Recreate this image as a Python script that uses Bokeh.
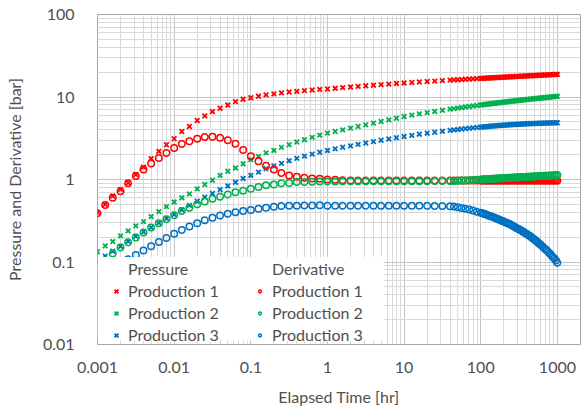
from bokeh.plotting import figure
from bokeh.models import FixedTicker, Legend, LegendItem, BoxAnnotation, Range1d
from bokeh.embed import file_html
from bokeh.resources import INLINE

# ---------------- data ----------------
times = [0.001, 0.00126, 0.00158, 0.002, 0.00251, 0.00316, 0.00398, 0.00501, 0.00631, 0.00794,
         0.01, 0.0126, 0.0158, 0.02, 0.0251, 0.0316, 0.0398, 0.0501, 0.0631, 0.0794,
         0.1, 0.126, 0.158, 0.2, 0.251, 0.316, 0.398, 0.501, 0.631, 0.794,
         1, 1.26, 1.58, 2, 2.51, 3.16, 3.98, 5.01, 6.31, 7.94,
         10, 12.6, 15.8, 20, 25.1, 31.6, 39.8,
         44.7, 50.1, 56.2, 63.1, 70.8, 79.4, 89.1, 100,
         104.7, 109.6, 114.8, 120.2, 125.9, 131.8, 138.0, 144.5, 151.4, 158.5,
         166.0, 173.8, 182.0, 190.5, 199.5, 208.9, 218.8, 229.1, 239.9, 251.2,
         263.0, 275.4, 288.4, 302.0, 316.2, 331.1, 346.7, 363.1, 380.2, 398.1,
         416.9, 436.5, 457.1, 478.6, 501.2, 524.8, 549.5, 575.4, 602.6, 631.0,
         660.7, 691.8, 724.4, 758.6, 794.3, 831.8, 871.0, 912.0, 955.0, 1000]

pressure_1 = [0.40, 0.50, 0.63, 0.76, 0.91, 1.15, 1.41, 1.79, 2.19, 2.64,
              3.12, 3.82, 4.39, 5.19, 5.90, 6.65, 7.30, 8.00, 8.80, 9.40,
              9.80, 10.2, 10.6, 10.9, 11.2, 11.5, 11.7, 11.95, 12.15, 12.35,
              12.5, 12.75, 13.0, 13.2, 13.45, 13.7, 13.9, 14.15, 14.35, 14.6,
              14.8, 15.0, 15.2, 15.4, 15.6, 15.8, 16.0,
              16.1, 16.2, 16.3, 16.4, 16.5, 16.6, 16.7, 16.8,
              16.84, 16.88, 16.92, 16.96, 17.00, 17.04, 17.08, 17.12, 17.16, 17.20,
              17.24, 17.28, 17.32, 17.36, 17.40, 17.44, 17.48, 17.52, 17.56, 17.60,
              17.64, 17.68, 17.72, 17.76, 17.80, 17.84, 17.88, 17.92, 17.96, 18.00,
              18.04, 18.08, 18.12, 18.16, 18.20, 18.24, 18.28, 18.32, 18.36, 18.40,
              18.44, 18.48, 18.52, 18.56, 18.60, 18.64, 18.68, 18.72, 18.76, 18.80]

pressure_2 = [0.133, 0.157, 0.177, 0.207, 0.238, 0.274, 0.309, 0.355, 0.408, 0.469,
              0.533, 0.600, 0.670, 0.770, 0.870, 0.980, 1.12, 1.26, 1.38, 1.55,
              1.74, 1.91, 2.10, 2.25, 2.45, 2.64, 2.85, 3.03, 3.24, 3.45,
              3.65, 3.82, 4.00, 4.19, 4.39, 4.60, 4.82, 5.05, 5.28, 5.53,
              5.80, 6.02, 6.24, 6.46, 6.68, 6.90, 7.12,
              7.23, 7.34, 7.45, 7.56, 7.67, 7.78, 7.89, 8.00,
              8.04, 8.09, 8.13, 8.18, 8.22, 8.26, 8.31, 8.35, 8.40, 8.44,
              8.48, 8.53, 8.57, 8.62, 8.66, 8.70, 8.75, 8.79, 8.84, 8.88,
              8.92, 8.97, 9.01, 9.06, 9.10, 9.14, 9.19, 9.23, 9.28, 9.32,
              9.36, 9.41, 9.45, 9.50, 9.54, 9.58, 9.63, 9.67, 9.72, 9.76,
              9.80, 9.85, 9.89, 9.94, 9.98, 10.02, 10.07, 10.11, 10.16, 10.20]

pressure_3 = [0.100, 0.118, 0.135, 0.155, 0.178, 0.205, 0.232, 0.262, 0.298, 0.338,
              0.378, 0.430, 0.485, 0.545, 0.610, 0.680, 0.755, 0.835, 0.925, 1.03,
              1.12, 1.23, 1.35, 1.46, 1.57, 1.69, 1.80, 1.92, 2.03, 2.14,
              2.25, 2.35, 2.46, 2.56, 2.67, 2.77, 2.88, 2.99, 3.10, 3.21,
              3.32, 3.43, 3.54, 3.64, 3.74, 3.84, 3.94,
              3.99, 4.04, 4.09, 4.13, 4.18, 4.22, 4.27, 4.31,
              4.328, 4.346, 4.363, 4.380, 4.397, 4.414, 4.430, 4.446, 4.462, 4.478,
              4.493, 4.508, 4.523, 4.538, 4.552, 4.566, 4.580, 4.593, 4.606, 4.619,
              4.632, 4.644, 4.656, 4.668, 4.679, 4.690, 4.701, 4.712, 4.722, 4.732,
              4.742, 4.751, 4.760, 4.769, 4.778, 4.786, 4.794, 4.802, 4.809, 4.816,
              4.823, 4.830, 4.836, 4.842, 4.848, 4.854, 4.859, 4.864, 4.869, 4.873]

derivative_1 = [0.39, 0.49, 0.60, 0.72, 0.90, 1.10, 1.32, 1.56, 1.82, 2.10,
                2.41, 2.69, 2.90, 3.12, 3.27, 3.30, 3.20, 3.00, 2.72, 2.28,
                1.91, 1.66, 1.47, 1.32, 1.20, 1.12, 1.08, 1.05, 1.03, 1.02,
                1.00, 0.99, 0.98, 0.975, 0.97, 0.97, 0.97, 0.97, 0.97, 0.97,
                0.97, 0.97, 0.97, 0.97, 0.97, 0.97, 0.97,
                0.97, 0.97, 0.97, 0.97, 0.97, 0.97, 0.97, 0.97,
                0.97, 0.97, 0.97, 0.97, 0.97, 0.97, 0.97, 0.97, 0.97, 0.97,
                0.97, 0.97, 0.97, 0.97, 0.97, 0.97, 0.97, 0.97, 0.97, 0.97,
                0.97, 0.97, 0.97, 0.97, 0.97, 0.97, 0.97, 0.97, 0.97, 0.97,
                0.97, 0.97, 0.97, 0.97, 0.97, 0.97, 0.97, 0.97, 0.97, 0.97,
                0.97, 0.97, 0.97, 0.97, 0.97, 0.97, 0.97, 0.97, 0.97, 0.97]

derivative_2 = [0.086, 0.104, 0.127, 0.150, 0.173, 0.198, 0.228, 0.262, 0.295, 0.330,
                0.368, 0.415, 0.456, 0.500, 0.540, 0.585, 0.620, 0.660, 0.700, 0.730,
                0.770, 0.810, 0.850, 0.870, 0.900, 0.910, 0.930, 0.935, 0.940, 0.945,
                0.945, 0.948, 0.950, 0.950, 0.950, 0.950, 0.950, 0.950, 0.950, 0.950,
                0.950, 0.950, 0.952, 0.954, 0.956, 0.958, 0.960,
                0.962, 0.966, 0.970, 0.975, 0.980, 0.985, 0.992, 1.000,
                1.003, 1.005, 1.008, 1.010, 1.013, 1.016, 1.018, 1.021, 1.023, 1.026,
                1.029, 1.031, 1.034, 1.036, 1.039, 1.042, 1.044, 1.047, 1.049, 1.052,
                1.055, 1.057, 1.060, 1.062, 1.065, 1.068, 1.070, 1.073, 1.075, 1.078,
                1.081, 1.083, 1.086, 1.088, 1.091, 1.094, 1.096, 1.099, 1.101, 1.104,
                1.107, 1.109, 1.112, 1.114, 1.117, 1.120, 1.122, 1.125, 1.127, 1.130]

derivative_3 = [0.062, 0.072, 0.083, 0.095, 0.108, 0.122, 0.138, 0.155, 0.175, 0.196,
                0.220, 0.245, 0.270, 0.295, 0.320, 0.345, 0.365, 0.385, 0.400, 0.415,
                0.427, 0.443, 0.456, 0.469, 0.477, 0.480, 0.482, 0.484, 0.485, 0.486,
                0.480, 0.480, 0.481, 0.481, 0.481, 0.481, 0.480, 0.480, 0.480, 0.480,
                0.480, 0.480, 0.480, 0.479, 0.478, 0.476, 0.473,
                0.470, 0.462, 0.452, 0.442, 0.432, 0.420, 0.407, 0.395,
                0.389, 0.384, 0.378, 0.373, 0.367, 0.361, 0.356, 0.350, 0.345, 0.339,
                0.333, 0.327, 0.321, 0.315, 0.310, 0.304, 0.298, 0.292, 0.286, 0.280,
                0.274, 0.268, 0.261, 0.255, 0.249, 0.243, 0.237, 0.230, 0.224, 0.218,
                0.212, 0.206, 0.199, 0.193, 0.187, 0.181, 0.175, 0.168, 0.162, 0.156,
                0.150, 0.144, 0.139, 0.133, 0.127, 0.121, 0.115, 0.110, 0.104, 0.098]

series_names = ["Production 1", "Production 2", "Production 3"]
x_ticks = [0.001, 0.01, 0.1, 1, 10, 100, 1000]
x_tick_labels = ["0.001", "0.01", "0.1", "1", "10", "100", "1000"]
y_ticks = [0.01, 0.1, 1, 10, 100]
y_tick_labels = ["0.01", "0.1", "1", "10", "100"]

# ---------------- styling ----------------
COLORS = ["#ff0000", "#00b050", "#0070c0"]
FONT = "Lato"
TXT = "#505050"
FS = "16px"


def minors(majors, upper):
    out = []
    for m in majors:
        for k in range(2, 10):
            v = m * k
            if v <= upper:
                out.append(v)
    return out


p = figure(width=583, height=408, x_axis_type="log", y_axis_type="log",
           x_range=Range1d(0.001, 2000), y_range=Range1d(0.01, 100),
           output_backend="svg", toolbar_location=None,
           min_border_left=97, min_border_right=3, min_border_top=14, min_border_bottom=62,
           background_fill_color="white", border_fill_color="white")

xt = FixedTicker(ticks=x_ticks, minor_ticks=minors(x_ticks, 2000))
yt = FixedTicker(ticks=y_ticks, minor_ticks=minors(y_ticks[:-1], 100))
p.xaxis.ticker = xt
p.yaxis.ticker = yt
p.xgrid.ticker = xt
p.ygrid.ticker = yt
p.xaxis.major_label_overrides = {t: l for t, l in zip(x_ticks, x_tick_labels)}
p.yaxis.major_label_overrides = {t: l for t, l in zip(y_ticks, y_tick_labels)}

for g in (p.xgrid, p.ygrid):
    g.grid_line_color = "#c4c4c4"
    g.grid_line_width = 1
    g.minor_grid_line_color = "#d9d9d9"
    g.minor_grid_line_width = 1

p.outline_line_color = "#a6a6a6"
p.outline_line_width = 1
p.axis.axis_line_color = None
p.axis.major_tick_line_color = None
p.axis.minor_tick_line_color = None
p.axis.major_label_text_font = FONT
p.axis.major_label_text_font_size = FS
p.axis.major_label_text_color = TXT
p.axis.axis_label_text_font = FONT
p.axis.axis_label_text_font_size = FS
p.axis.axis_label_text_font_style = "normal"
p.axis.axis_label_text_color = TXT
p.xaxis.major_label_standoff = 11
p.xaxis.axis_label_standoff = 11
p.yaxis.major_label_standoff = 17
p.yaxis.axis_label_standoff = 16
p.xaxis.axis_label = "Elapsed Time [hr]"
p.yaxis.axis_label = "Pressure and Derivative [bar]"

pressures = [pressure_1, pressure_2, pressure_3]
derivs = [derivative_1, derivative_2, derivative_3]

for vals, c in zip(pressures, COLORS):
    p.scatter(times, vals, marker="x", size=6.5, line_color=c, line_width=1.8)
for vals, c in zip(derivs, COLORS):
    p.scatter(times, vals, marker="circle", size=6.5, line_color=c,
              fill_color=None, line_width=1.5)

# white legend box
p.add_layout(BoxAnnotation(left=0.001, right=5.5, bottom=0.0112, top=0.115,
                           fill_color="white", fill_alpha=1.0, line_color=None))

# small legend-only glyphs: one point far outside the visible ranges (never shown)
OFF = [1e-9]
dummy = p.scatter(x=OFF, y=OFF, marker="x", size=5, line_alpha=0, fill_alpha=0)
leg_p = [p.scatter(x=OFF, y=OFF, marker="x", size=5, line_color=c, line_width=1.8)
         for c in COLORS]
leg_d = [p.scatter(x=OFF, y=OFF, marker="circle", size=5, line_color=c, fill_color=None,
                   line_width=1.5) for c in COLORS]


def make_legend(header, rends, xoff, gw, standoff):
    items = [LegendItem(label=header, renderers=[dummy])]
    items += [LegendItem(label=n, renderers=[r]) for n, r in zip(series_names, rends)]
    return Legend(items=items, location=(xoff, 0), margin=0, padding=4, spacing=3,
                  glyph_width=gw, glyph_height=18, label_height=18, label_standoff=standoff,
                  label_text_font=FONT, label_text_font_size=FS, label_text_color=TXT,
                  background_fill_alpha=0, border_line_color=None)


p.add_layout(make_legend("Pressure", leg_p, 12, 14, 5))
p.add_layout(make_legend("Derivative", leg_d, 159, 7, 9))

open("out.html", "w").write(file_html(p, INLINE))
